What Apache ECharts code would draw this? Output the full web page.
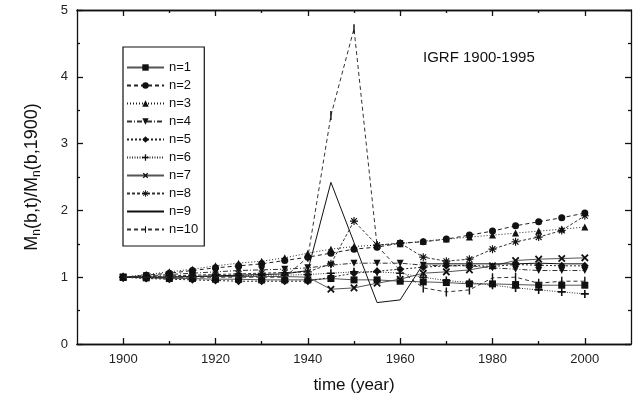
<!DOCTYPE html>
<html lang="en">
<head>
<meta charset="UTF-8">
<title>IGRF 1900-1995</title>
<script src="https://cdn.jsdelivr.net/npm/echarts@6/dist/echarts.min.js"></script>
<style>
  html, body { margin: 0; padding: 0; background: #fff; }
  #chart { width: 640px; height: 405px; }
</style>
</head>
<body>
<div id="chart"></div>
<script>
// years sampled every 5 years
var years = [1900,1905,1910,1915,1920,1925,1930,1935,1940,1945,1950,1955,1960,1965,1970,1975,1980,1985,1990,1995,2000];
var n1  = [1.00,0.99,0.98,0.98,0.97,0.97,0.96,0.96,0.96,0.98,0.96,0.96,0.94,0.93,0.92,0.90,0.90,0.89,0.88,0.88,0.88];
var n2  = [1.00,1.03,1.06,1.10,1.14,1.17,1.20,1.25,1.30,1.36,1.42,1.45,1.51,1.53,1.57,1.63,1.69,1.77,1.83,1.89,1.96];
var n3  = [1.00,1.04,1.08,1.12,1.17,1.21,1.24,1.29,1.36,1.42,1.46,1.48,1.50,1.54,1.57,1.60,1.63,1.66,1.69,1.72,1.75];
var n4  = [1.00,1.02,1.04,1.06,1.08,1.10,1.11,1.12,1.14,1.18,1.21,1.21,1.21,1.18,1.17,1.17,1.14,1.12,1.10,1.10,1.10];
var n5  = [1.00,0.98,0.97,0.96,0.95,0.94,0.94,0.94,0.94,1.00,1.06,1.09,1.12,1.15,1.17,1.18,1.16,1.19,1.18,1.17,1.17];
var n6  = [1.00,1.00,1.01,1.01,1.02,1.02,1.03,1.03,1.04,1.06,1.08,1.08,1.06,1.00,0.95,0.92,0.88,0.84,0.81,0.78,0.75];
var n7  = [1.00,1.00,1.00,1.01,1.01,1.01,1.01,1.01,1.00,0.82,0.84,0.91,0.97,1.06,1.08,1.11,1.17,1.25,1.27,1.28,1.29];
var n8  = [1.00,1.01,1.02,1.03,1.04,1.05,1.06,1.07,1.08,1.20,1.84,1.48,1.51,1.30,1.24,1.27,1.42,1.53,1.60,1.70,1.92];
var n9  = [1.00,1.00,1.00,1.01,1.02,1.03,1.04,1.05,1.10,2.42,1.52,0.62,0.66,1.20,1.20,1.20,1.20,1.20,1.21,1.20,1.20];
var n10 = [1.00,1.00,1.00,1.00,1.00,1.00,1.00,1.00,1.30,3.42,4.72,1.47,1.10,0.84,0.78,0.81,0.99,1.00,0.91,0.94,0.94];

var names = ['n=1','n=2','n=3','n=4','n=5','n=6','n=7','n=8','n=9','n=10'];
var values = [n1,n2,n3,n4,n5,n6,n7,n8,n9,n10];

var majorX = [1900,1920,1940,1960,1980,2000];
var minorX = [1910,1930,1950,1970,1990];

// marker shapes
var PLUS = 'path://M4,0H6V4H10V6H6V10H4V6H0V4H4Z';
var STAR = 'path://M4.3,0H5.7V3.3L8.1,0.9L9.1,1.9L6.7,4.3H10V5.7H6.7L9.1,8.1L8.1,9.1L5.7,6.7V10H4.3V6.7L1.9,9.1L0.9,8.1L3.3,5.7H0V4.3H3.3L0.9,1.9L1.9,0.9L4.3,3.3Z';
// thin vertical bar, padded to a square box so it does not stretch
var BAR = 'path://M0,5L0.01,5M4.2,0H5.8V10H4.2ZM10,5L10.01,5';
var styles = [
  { symbol: 'rect', size: 7, type: 'solid', color: '#555' },
  { symbol: 'circle', size: 7, type: [4, 3], color: '#222' },
  { symbol: 'triangle', size: 7, type: [1, 2], color: '#222' },
  { symbol: 'triangle', size: 7, rotate: 180, type: [5, 2, 1, 2], color: '#333' },
  { symbol: 'diamond', size: 8, type: [2, 2], color: '#222' },
  { symbol: PLUS, size: 8, type: [1, 1.5], color: '#333' },
  { symbol: PLUS, size: 9, rotate: 45, type: 'solid', color: '#555' },
  { symbol: STAR, size: 8, type: [3, 2], color: '#333' },
  { symbol: 'none', size: 0, type: 'solid', color: '#111' },
  { symbol: BAR, size: 9, type: [4, 3], color: '#333' }
];

var series = names.map(function (nm, i) {
  var st = styles[i];
  return {
    name: nm,
    type: 'line',
    xAxisIndex: 0,
    yAxisIndex: 0,
    data: years.map(function (y, j) { return [y, values[i][j]]; }),
    symbol: st.symbol,
    symbolSize: st.size,
    symbolRotate: st.rotate || 0,
    showSymbol: st.symbol !== 'none',
    lineStyle: { color: st.color, width: 1, type: st.type },
    itemStyle: { color: '#111' },
    emphasis: { disabled: true },
    z: 2 + i
  };
});

var legendData = names.map(function (nm, i) {
  if (styles[i].symbol === 'none') {
    return { name: nm, itemStyle: { opacity: 0 } };
  }
  return { name: nm };
});

var tickFont = { fontFamily: 'Liberation Sans', fontSize: 13, color: '#222' };

function xAx(pos, vals, len, withLabel) {
  return {
    type: 'value', min: 1890, max: 2010, position: pos,
    axisLine: { show: true, onZero: false, lineStyle: { color: '#111', width: 1.3 } },
    axisTick: { show: true, inside: true, length: len, customValues: vals, lineStyle: { color: '#111', width: 1.3 } },
    axisLabel: withLabel ? Object.assign({
      show: true, margin: 9, customValues: majorX,
      formatter: function (v) { return String(v); }
    }, tickFont) : { show: false },
    splitLine: { show: false }
  };
}
function yAx(pos, withLabel) {
  return {
    type: 'value', min: 0, max: 5, interval: 1, position: pos,
    axisLine: { show: true, onZero: false, lineStyle: { color: '#111', width: 1.3 } },
    axisTick: { show: true, inside: true, length: 6, lineStyle: { color: '#111', width: 1.3 } },
    minorTick: { show: true, splitNumber: 2, length: 3, lineStyle: { color: '#111', width: 1.3 } },
    axisLabel: withLabel ? Object.assign({ show: true, margin: 9 }, tickFont) : { show: false },
    splitLine: { show: false },
    minorSplitLine: { show: false }
  };
}

var xMain = xAx('bottom', majorX, 6, true);
xMain.name = 'time (year)';
xMain.nameLocation = 'middle';
xMain.nameGap = 33;
xMain.nameTextStyle = { fontFamily: 'Liberation Sans', fontSize: 17, color: '#111' };

var yMain = yAx('left', true);
yMain.name = '{m|M}{s|n}{m|(b,t)/M}{s|n}{m|(b,1900)}';
yMain.nameLocation = 'middle';
yMain.nameGap = 34;
yMain.nameRotate = 90;
yMain.nameTextStyle = {
  rich: {
    m: { fontFamily: 'Liberation Sans', fontSize: 18, color: '#111', lineHeight: 22, verticalAlign: 'middle' },
    s: { fontFamily: 'Liberation Sans', fontSize: 12, color: '#111', lineHeight: 22, verticalAlign: 'bottom' }
  }
};

var option = {
  backgroundColor: '#fff',
  animation: false,
  grid: { left: 77, right: 9, top: 10, bottom: 61 },
  xAxis: [
    xMain,
    xAx('bottom', minorX, 3, false),
    xAx('top', majorX, 6, false),
    xAx('top', minorX, 3, false)
  ],
  yAxis: [yMain, yAx('right', false)],
  legend: {
    orient: 'vertical',
    left: 123, top: 47,
    padding: [14, 6, 10, 3],
    itemWidth: 37, itemHeight: 8, itemGap: 5,
    borderColor: '#111', borderWidth: 1.2,
    backgroundColor: '#fff',
    textStyle: { fontFamily: 'Liberation Sans', fontSize: 13, color: '#111' },
    selectedMode: false,
    data: legendData
  },
  graphic: [{
    type: 'text', left: 423, top: 50,
    style: { text: 'IGRF 1900-1995', font: '15px "Liberation Sans"', fill: '#111' }
  }],
  series: series
};

var chart = echarts.init(document.getElementById('chart'), null, { renderer: 'canvas' });
chart.setOption(option);
</script>
</body>
</html>
